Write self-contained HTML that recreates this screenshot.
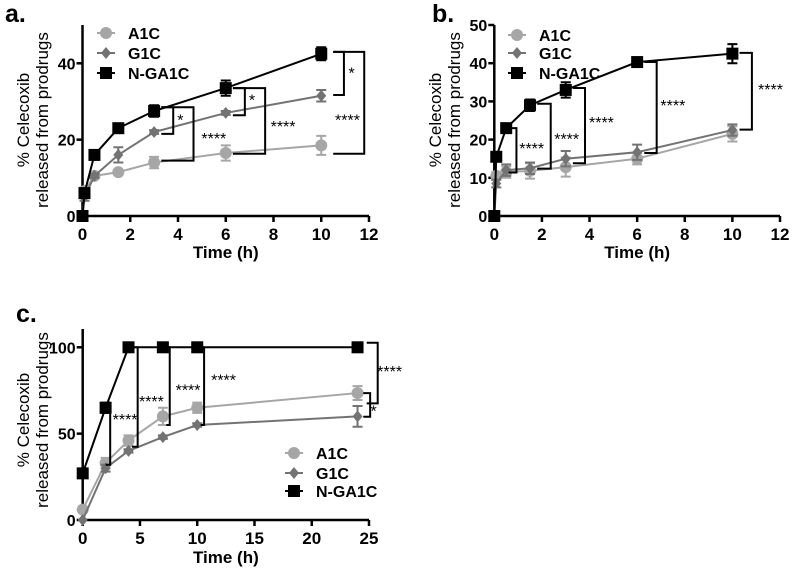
<!DOCTYPE html>
<html><head><meta charset="utf-8">
<style>
html,body{margin:0;padding:0;background:#fff;}
svg{display:block;font-family:"Liberation Sans",Arial,sans-serif;font-weight:bold;}
</style></head>
<body>
<svg id="chart" width="793" height="572" viewBox="0 0 793 572"></svg>
<script>
// ---- Panel a data ----
const timesA = [0, 0.083, 0.5, 1.5, 3, 6, 10];
const a_A1C = [0, 6.5, 10.5, 11.5, 14, 16.5, 18.5];
const a_A1C_err = [0, 1, 0.5, 0.5, 1.5, 2, 2.5];
const a_G1C = [0, 5, 10.5, 16, 22, 27, 31.5];
const a_G1C_err = [0, 1, 0.5, 2, 0.5, 0.5, 1.5];
const a_NGA = [0, 6, 16, 23, 27.5, 33.5, 42.5];
const a_NGA_err = [0, 0.5, 1, 0.5, 1.5, 2, 1.7];
const a_xticks = [0, 2, 4, 6, 8, 10, 12];
const a_yticks = [0, 20, 40];
// brackets: [xStart, xEnd, yTop, yBottom, label, labelX, labelY]
const a_brackets = [
  [3.3, 3.8, 28.5, 21.5, '*', 4.1, 25.6],
  [3.3, 4.65, 28.5, 14.5, '****', 5.5, 20.7],
  [6.3, 6.8, 33.5, 26.4, '*', 7.1, 30.8],
  [6.3, 7.65, 33.5, 16.3, '****', 8.4, 23.8],
  [10.5, 10.95, 43, 31.7, '*', 11.27, 37.8],
  [10.5, 11.8, 43, 16.3, '****', 11.1, 25.6]
];
// ---- Panel b data ----
const timesB = [0, 0.083, 0.5, 1.5, 3, 6, 10];
const b_A1C = [0, 10.5, 11.5, 11.8, 12.8, 15, 21.5];
const b_A1C_err = [0, 1, 1.5, 2, 2.5, 1.5, 2];
const b_G1C = [0, 8.5, 12, 12.5, 15, 16.7, 22.5];
const b_G1C_err = [0, 1, 1.5, 1.5, 2, 2, 1.5];
const b_NGA = [0, 15.5, 23, 29, 33, 40.3, 42.5];
const b_NGA_err = [0, 1, 0.5, 1.5, 2, 0.5, 2.5];
const b_xticks = [0, 2, 4, 6, 8, 10, 12];
const b_yticks = [0, 10, 20, 30, 40, 50];
const b_brackets = [
  [0.6, 0.93, 23, 11.4, '****', 1.57, 18.1],
  [1.8, 2.37, 29.4, 12.4, '****', 3.04, 20.6],
  [3.3, 3.81, 33.5, 13.8, '****', 4.5, 24.9],
  [6.3, 6.82, 40.3, 16.5, '****', 7.5, 29.3],
  [10.3, 10.82, 42.7, 22.6, '****', 11.6, 33.5]
];
// ---- Panel c data ----
const timesC = [0, 2, 4, 7, 10, 24];
const c_A1C = [6, 33, 46, 60, 65, 73.5];
const c_A1C_err = [0, 3, 3, 5, 3, 4];
const c_G1C = [0, 30, 40, 48, 55, 60];
const c_G1C_err = [0, 2, 1, 1, 1, 6];
const c_NGA = [27, 65, 100, 100, 100, 100];
const c_NGA_err = [0, 3, 0, 0, 0, 0];
const c_xticks = [0, 5, 10, 15, 20, 25];
const c_yticks = [0, 50, 100];
const c_brackets = [
  [2.0, 2.4, 65, 32, '****', 3.7, 59],
  [4.3, 4.8, 100, 42.4, '****', 6.0, 69.5],
  [7.3, 7.6, 100, 55, '****', 9.2, 76],
  [10.3, 10.6, 100, 55, '****', 12.3, 82],
  [24.8, 25.76, 102.6, 67.5, '****', 26.8, 87],
  [24.5, 25.1, 73.5, 59.8, '*', 25.4, 64]
];

const NS = 'http://www.w3.org/2000/svg';
const svg = document.getElementById('chart');
const COL = {A1C: '#a6a6a6', G1C: '#737373', NGA: '#000000'};

function mk(tag, attrs, parent) {
  const e = document.createElementNS(NS, tag);
  for (const k in attrs) e.setAttribute(k, attrs[k]);
  (parent || svg).appendChild(e);
  return e;
}

function marker(g, type, cx, cy, color) {
  let m;
  if (type === 'circle') m = mk('circle', {cx: cx, cy: cy, r: 6, fill: color}, g);
  else if (type === 'diamond') m = mk('polygon', {points: `${cx},${cy-6} ${cx+5},${cy} ${cx},${cy+6} ${cx-5},${cy}`, fill: color}, g);
  else m = mk('rect', {x: cx-6, y: cy-6, width: 12, height: 12, fill: color}, g);
  return m;
}

function panel(cfg) {
  const g = mk('g', {});
  
  
  const sx = v => cfg.x0 + (v - cfg.xmin) / (cfg.xmax - cfg.xmin) * (cfg.x1 - cfg.x0);
  const sy = v => cfg.y0 - (v - cfg.ymin) / (cfg.ymax - cfg.ymin) * (cfg.y0 - cfg.y1);
  const ax = mk('path', {d: `M${cfg.x0},${cfg.ytop} V${cfg.y0} H${cfg.x1}`, stroke: '#000', 'stroke-width': 2.5, fill: 'none'}, g);
  
  
  cfg.xticks.forEach(t => {
    mk('line', {x1: sx(t), x2: sx(t), y1: cfg.y0, y2: cfg.y0 + 6, stroke: '#000', 'stroke-width': 2.5}, g);
    const tx = mk('text', {x: sx(t), y: cfg.y0 + 24, 'text-anchor': 'middle', 'font-size': 17}, g);
    tx.textContent = t;
    
    
  });
  cfg.yticks.forEach(t => {
    mk('line', {x1: cfg.x0 - 6, x2: cfg.x0, y1: sy(t), y2: sy(t), stroke: '#000', 'stroke-width': 2.5}, g);
    const tx = mk('text', {x: cfg.x0 - 7, y: sy(t) + 6, 'text-anchor': 'end', 'font-size': 16}, g);
    tx.textContent = t;
    
    
  });
  const xt = mk('text', {x: (cfg.x0 + cfg.x1) / 2, y: cfg.xtitleY, 'text-anchor': 'middle', 'font-size': 17}, g);
  xt.textContent = 'Time (h)';
  
  
  const yt = mk('text', {transform: `translate(${cfg.ytitleX},${cfg.ytitleY}) rotate(-90)`, 'text-anchor': 'middle', 'font-size': 17, 'font-weight': 'normal'}, g);
  
  
  const t1 = mk('tspan', {x: 0, dy: 0}, yt); t1.textContent = '% Celecoxib';
  const t2 = mk('tspan', {x: 0, dy: 19}, yt); t2.textContent = 'released from prodrugs';
  const pl = mk('text', {x: cfg.letterX, y: cfg.letterY, 'font-size': 25}, g);
  pl.textContent = cfg.letter;
  
  
  cfg.series.forEach(s => {
    const sg = mk('g', {}, g);
    
    
    const pts = cfg.times.map((t, i) => `${sx(t)},${sy(s.vals[i])}`).join(' ');
    const ln = mk('polyline', {points: pts, fill: 'none', stroke: s.color, 'stroke-width': 2}, sg);
    
    
    cfg.times.forEach((t, i) => {
      const e = s.err[i];
      if (e > 0) {
        const x = sx(t), ya = sy(s.vals[i] + e), yb = sy(s.vals[i] - e);
        mk('path', {d: `M${x},${ya} V${yb} M${x-5},${ya} H${x+5} M${x-5},${yb} H${x+5}`, stroke: s.color, 'stroke-width': 2, fill: 'none'}, sg);
      }
      const m = marker(sg, s.type, sx(t), sy(s.vals[i]), s.color);
      
      
    });
  });
  cfg.brackets.forEach(b => {
    const p = mk('path', {d: `M${sx(b[0])},${sy(b[2])} H${sx(b[1])} V${sy(b[3])} H${sx(b[0])}`, stroke: '#000', 'stroke-width': 2, fill: 'none'}, g);
    
    
    const tx = mk('text', {x: sx(b[5]), y: sy(b[6]) + 7, 'text-anchor': 'middle', 'font-size': 16, 'font-weight': 'normal'}, g);
    tx.textContent = b[4];
    
    
  });
  const lg = mk('g', {}, g);
  
  
  cfg.series.forEach((s, i) => {
    const y = cfg.legY[i];
    const eg = mk('g', {}, lg);
    
    
    mk('line', {x1: cfg.legX, x2: cfg.legX + 18, y1: y, y2: y, stroke: s.color, 'stroke-width': 2}, eg);
    marker(eg, s.type, cfg.legX + 9, y, s.color);
    const tx = mk('text', {x: cfg.legX + 31, y: y + 6, 'font-size': 16}, eg);
    tx.textContent = s.label;
  });
}

panel({name: 'panel-a', letter: 'a.', letterX: 5, letterY: 22,
  x0: 82.5, x1: 369, xmin: 0, xmax: 12, y0: 216, y1: 63.3, ymin: 0, ymax: 40, ytop: 25,
  xticks: a_xticks, yticks: a_yticks, xtitleY: 258, ytitleX: 29, ytitleY: 120,
  times: timesA, brackets: a_brackets, legX: 97, legY: [33, 53, 73],
  series: [
    {key: 'A1C', label: 'A1C', vals: a_A1C, err: a_A1C_err, color: COL.A1C, type: 'circle'},
    {key: 'G1C', label: 'G1C', vals: a_G1C, err: a_G1C_err, color: COL.G1C, type: 'diamond'},
    {key: 'NGA1C', label: 'N-GA1C', vals: a_NGA, err: a_NGA_err, color: COL.NGA, type: 'square'}
  ]});

panel({name: 'panel-b', letter: 'b.', letterX: 432, letterY: 22,
  x0: 494.3, x1: 780, xmin: 0, xmax: 12, y0: 216, y1: 25, ymin: 0, ymax: 50, ytop: 25,
  xticks: b_xticks, yticks: b_yticks, xtitleY: 258, ytitleX: 441, ytitleY: 120,
  times: timesB, brackets: b_brackets, legX: 508, legY: [35, 53, 73],
  series: [
    {key: 'A1C', label: 'A1C', vals: b_A1C, err: b_A1C_err, color: COL.A1C, type: 'circle'},
    {key: 'G1C', label: 'G1C', vals: b_G1C, err: b_G1C_err, color: COL.G1C, type: 'diamond'},
    {key: 'NGA1C', label: 'N-GA1C', vals: b_NGA, err: b_NGA_err, color: COL.NGA, type: 'square'}
  ]});

panel({name: 'panel-c', letter: 'c.', letterX: 16, letterY: 322,
  x0: 82.7, x1: 369, xmin: 0, xmax: 25, y0: 520, y1: 347.3, ymin: 0, ymax: 100, ytop: 329,
  xticks: c_xticks, yticks: c_yticks, xtitleY: 563, ytitleX: 29, ytitleY: 420,
  times: timesC, brackets: c_brackets, legX: 285, legY: [453, 473, 491],
  series: [
    {key: 'A1C', label: 'A1C', vals: c_A1C, err: c_A1C_err, color: COL.A1C, type: 'circle'},
    {key: 'G1C', label: 'G1C', vals: c_G1C, err: c_G1C_err, color: COL.G1C, type: 'diamond'},
    {key: 'NGA1C', label: 'N-GA1C', vals: c_NGA, err: c_NGA_err, color: COL.NGA, type: 'square'}
  ]});
</script>
</body></html>
